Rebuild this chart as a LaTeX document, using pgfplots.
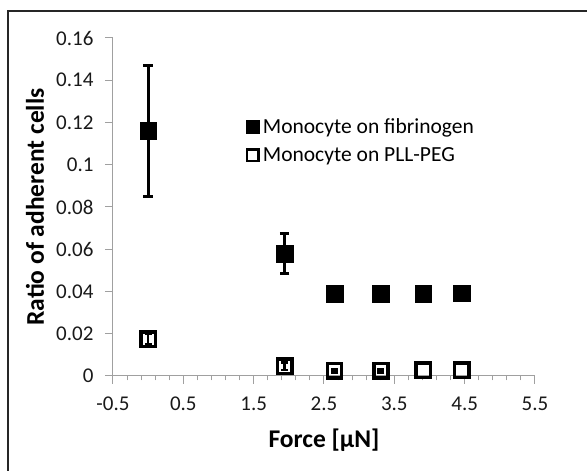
\documentclass[border=0pt]{standalone}
\usepackage{fontspec}
\setmainfont{Carlito}
\usepackage{pgfplots}
\pgfplotsset{compat=1.18}
\definecolor{axgray}{RGB}{160,160,160}
\begin{document}
\begin{tikzpicture}[x=1pt,y=1pt]
\path[use as bounding box] (0,0) rectangle (587,471);
\draw[line width=2pt, black!85] (8,0) -- (8,460) -- (587,460);
\begin{axis}[
  at={(113pt,95pt)}, anchor=south west,
  scale only axis, width=422pt, height=338pt,
  xmin=-0.5, xmax=5.5, ymin=0, ymax=0.16,
  axis x line=bottom, axis y line=left,
  axis line style={-, draw=axgray, line width=1pt},
  xtick={-0.5,0.5,1.5,2.5,3.5,4.5,5.5},
  xticklabels={-0.5,0.5,1.5,2.5,3.5,4.5,5.5},
  minor x tick num=4,
  ytick={0,0.02,0.04,0.06,0.08,0.1,0.12,0.14,0.16},
  yticklabels={0,0.02,0.04,0.06,0.08,0.1,0.12,0.14,0.16},
  tick align=outside, major tick length=8pt, minor tick length=4.5pt,
  every tick/.style={axgray, line width=1pt},
  ticklabel style={font=\fontsize{21}{25}\selectfont, text=black!90},
  xticklabel style={yshift=-9pt},
  yticklabel style={xshift=-8pt},
  xlabel={\bfseries Force [μN]},
  ylabel={\bfseries Ratio of adherent cells},
  label style={font=\fontsize{25.5}{30}\selectfont, text=black},
  xlabel style={at={(axis description cs:0.5,-0.189)}, anchor=center},
  ylabel style={at={(axis description cs:-0.185,0.5)}, anchor=center},
  legend style={at={(axis description cs:0.314,0.766)}, anchor=north west, draw=none, fill=none,
    font=\fontsize{21.5}{25}\selectfont, row sep=11pt, column sep=2pt, inner sep=0pt,
    nodes={inner sep=1pt}, text=black},
  legend cell align=left,
  clip=false,
]
\addplot[only marks, mark=square*, mark size=8.4pt, black,
  legend image code/.code={\node[fill=black, inner sep=0pt, minimum size=14pt] at (0,0) {};},
  error bars/.cd, y dir=both, y explicit,
  error bar style={line width=3.2pt, black},
  error mark options={rotate=90, mark size=4.8pt, line width=3pt, black}]
  table[x=x, y=y, y error=e] {
x     y       e
0     0.116   0.031
1.94  0.058   0.0093
2.65  0.039   0
3.31  0.0388  0
3.91  0.0388  0
4.46  0.0392  0
};
\addplot[only marks, mark=square, mark size=7.2pt, black, line width=3.5pt,
  legend image code/.code={\node[draw=black, line width=2.4pt, inner sep=0pt, minimum size=11.5pt] at (0,0) {};},
  error bars/.cd, y dir=both, y explicit,
  error bar style={line width=2.6pt, black},
  error mark options={rotate=90, mark size=3.5pt, line width=2.6pt, black}]
  table[x=x, y=y, y error=e] {
x     y       e
0     0.0174  0.0025
1.94  0.0047  0.0018
2.65  0.0024  0.0008
3.31  0.0024  0.0008
};
\addplot[only marks, mark=square, mark size=7.2pt, black, line width=3.5pt, forget plot]
  table[x=x, y=y] {
x     y
3.91  0.0028
4.46  0.0028
};
\legend{Monocyte on fibrinogen,Monocyte on PLL-PEG}
\end{axis}
\end{tikzpicture}
\end{document}
